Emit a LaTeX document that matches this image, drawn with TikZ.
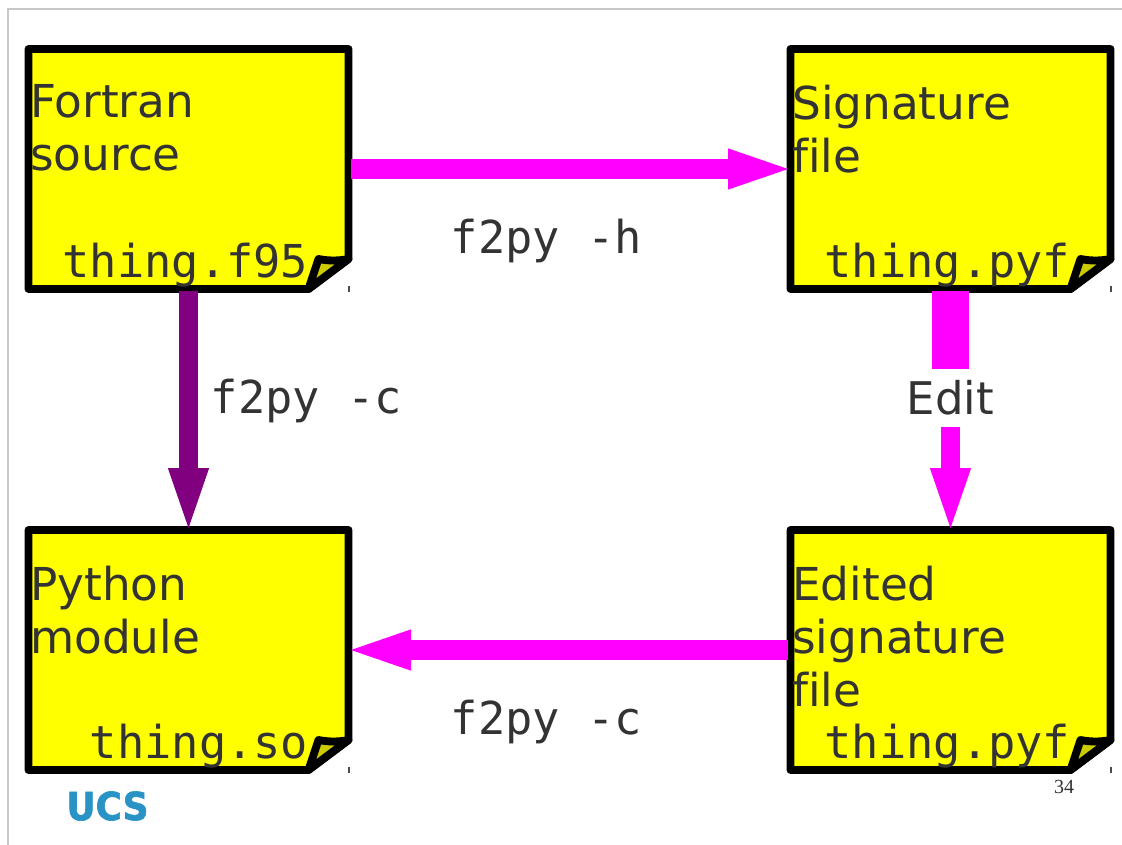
\documentclass[tikz,border=0pt]{standalone}
\usepackage{fontspec}
\setmainfont{DejaVu Sans}[Ligatures=NoCommon]
\setmonofont{DejaVu Sans Mono}
\newfontfamily\numfont{Liberation Serif}
\newfontfamily\logofont{DejaVu Sans}[UprightFont=*-Bold,FakeBold=1.6]
\usepackage{xcolor}
\usetikzlibrary{arrows.meta,calc}
\definecolor{inktext}{HTML}{333333}
\definecolor{notecol}{HTML}{FFFF00}
\definecolor{foldcol}{HTML}{CCCC00}
\definecolor{logoblue}{HTML}{2A93C6}
\definecolor{framecol}{HTML}{C8C8C8}
\definecolor{flowcol}{HTML}{FF00FF}
\definecolor{buildcol}{HTML}{800080}
\tikzset{
    notetext/.style={anchor=north west, align=left, inner sep=0pt, text=inktext,
        font=\fontsize{34}{39.75}\selectfont},
    filetext/.style={anchor=base east, inner sep=0pt, text=inktext,
        font=\fontsize{34}{39.75}\selectfont\ttfamily},
    cmdtext/.style={inner sep=0pt, text=inktext,
        font=\fontsize{34}{39.75}\selectfont\ttfamily},
    flow/.style={line width=14.5pt, flowcol,
        -{Triangle[length=45pt,width=31pt,line width=0pt]}},
}
\begin{document}
\begin{tikzpicture}[x=0.75pt,y=-0.75pt]
        \useasboundingbox (0,0) rectangle (1122,845);
        \draw[framecol, line width=0.9pt] (1122,9) -- (8,9) -- (8,845);

        % Draw the notes
        \foreach \name/\x/\y/\title/\file in {
            fortran/188.5/169/{Fortran\\source}/thing.f95,
            signature/950.5/169/{Signature\\file}/thing.pyf,
            python/188.5/650/{Python\\module}/thing.so,
            edited/950.5/650/{Edited\\signature\\file}/thing.pyf
        } {
            \begin{scope}[shift={(\x,\y)}]
                \draw[line width=5.9pt, line join=round, fill=notecol]
                    (-160,-120) -- (160,-120) -- (160,90) -- (120,120) -- (-160,120) -- cycle;
                \draw[line width=5.9pt, line join=round, fill=foldcol]
                    (120,120) -- (130,90) .. controls (140,92) and (150,92) .. (160,90) -- cycle;
                \draw[line width=1pt, black!70] (160.5,117) -- (160.5,123);
            \end{scope}
            \node[minimum width=243.75pt, minimum height=183pt, inner sep=0pt, outer sep=0pt] (\name) at (\x,\y) {};
            \node[notetext] (\name title) at ($(\name.north west)+(4,37.5)$) {\title};
            \node[filetext] (\name file) at ($(\name.south east)+(-42.5,-14)$) {\file};
        }

        % Labels on the connectors
        \node[cmdtext] (hlabel) at (546.5,241) {f2py -h};
        \node[cmdtext] (clabel) at (306.5,401) {f2py -c};
        \node[cmdtext] (blabel) at (546.5,722) {f2py -c};
        \node[inner sep=0pt, outer sep=0pt, minimum width=80pt, minimum height=43.5pt, text=inktext,
            font=\fontsize{33.75}{39.75}\selectfont] (editlabel) at (950.5,398) {Edit};

        % Connectors
        \draw[flow] (fortran) -- (signature);
        \draw[flow, buildcol] (fortran) -- (python);
        \draw[flowcol, line width=27.5pt] (signature) -- (editlabel);
        \draw[flow] (editlabel) -- (edited);
        \draw[flow] (edited) -- (python);

        \node[inner sep=0pt, text=inktext, font=\fontsize{15}{18}\selectfont\numfont] (pagenum) at (1064,787) {34};
        \node[inner sep=0pt, xscale=0.93, text=logoblue, font=\fontsize{29}{30}\selectfont\logofont] (logo) at (107.5,806) {UCS};
    \end{tikzpicture}
\end{document}
